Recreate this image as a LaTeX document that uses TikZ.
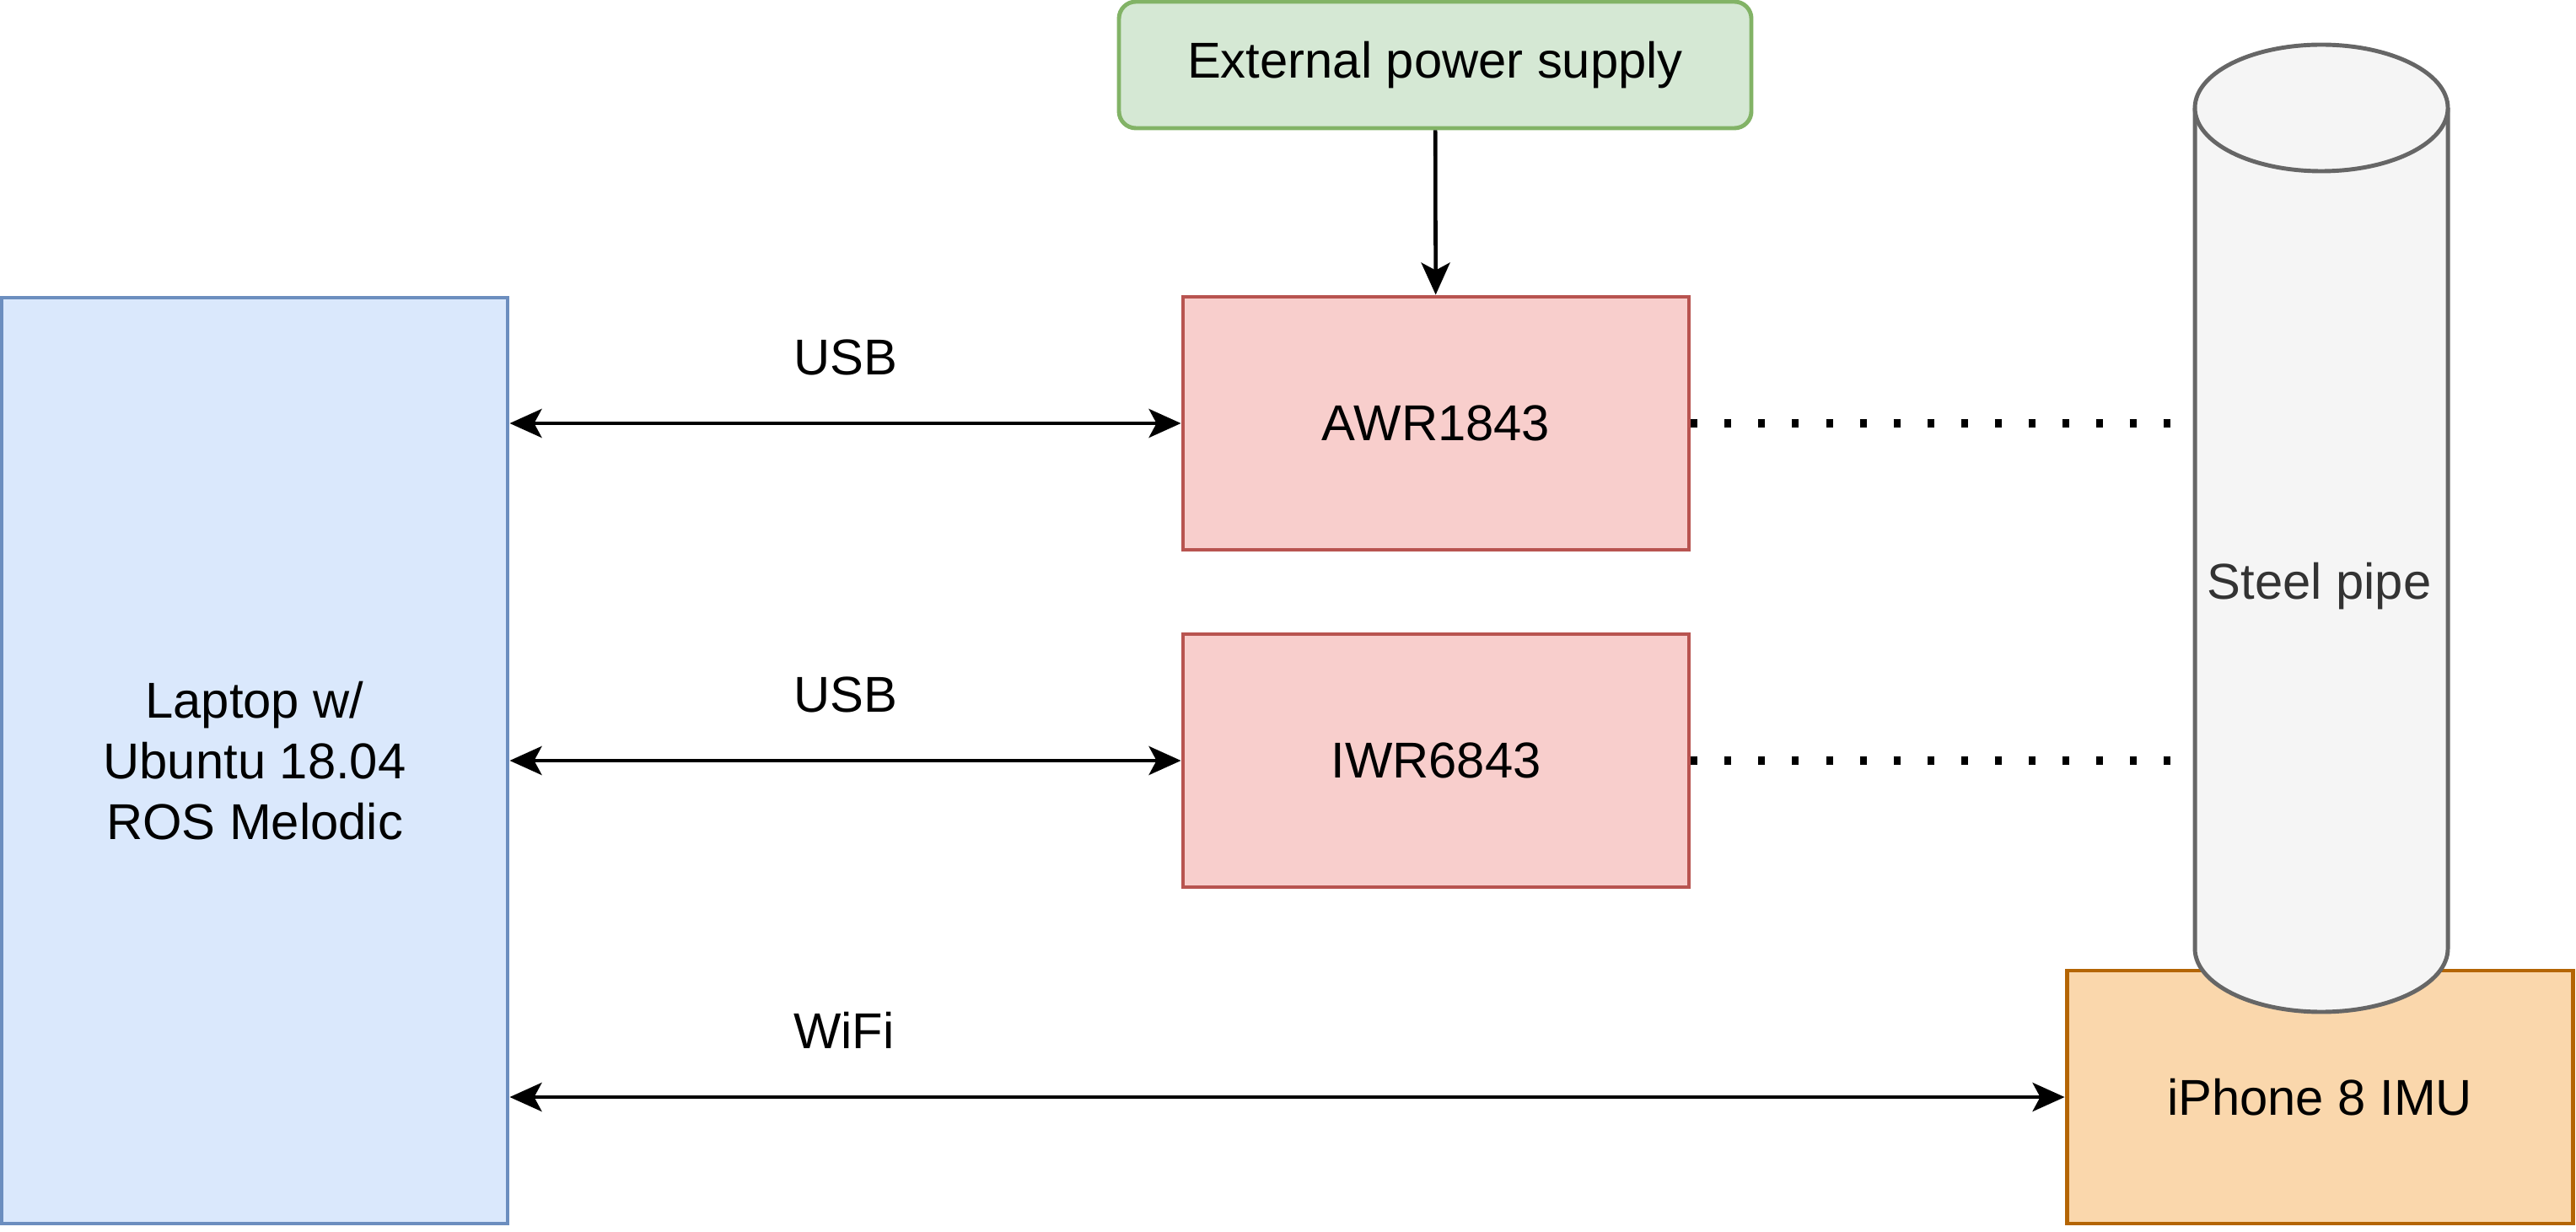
\documentclass[tikz,border=0pt]{standalone}
\usepackage{fontspec}
\setmainfont{Liberation Sans}
\usepackage{tikz}
\usetikzlibrary{arrows.meta,positioning}

\definecolor{lapfill}{HTML}{DAE8FC}
\definecolor{lapdraw}{HTML}{6C8EBF}
\definecolor{powfill}{HTML}{D5E8D4}
\definecolor{powdraw}{HTML}{82B366}
\definecolor{radfill}{HTML}{F8CECC}
\definecolor{raddraw}{HTML}{B85450}
\definecolor{phfill}{HTML}{FAD7AC}
\definecolor{phdraw}{HTML}{B46504}
\definecolor{pipefill}{HTML}{F5F5F5}
\definecolor{pipedraw}{HTML}{666666}
\definecolor{pipetext}{HTML}{333333}

\tikzset{
	blk/.style={draw, line width=1.4pt, minimum width=6cm, minimum height=3cm,
		align=center, inner sep=0pt},
	lbl/.style={inner sep=0pt},
	link/.style={line width=1.3pt,
		>={Stealth[length=0.38cm, width=0.34cm, inset=0.09cm]}},
	dotline/.style={line width=0.1cm, dash pattern=on 0.08cm off 0.32cm}
}

\begin{document}
\begin{tikzpicture}[font=\fontsize{17}{20.4}\selectfont]
		\useasboundingbox (0,0) rectangle (30.55,14.6);
		%
		\node[blk, fill=lapfill, draw=lapdraw, minimum height=10.98cm] (Lap) at (3.02,5.58) {Laptop w/\\Ubuntu 18.04\\ROS Melodic};
		\node[blk, fill=powfill, draw=powdraw, rounded corners=0.2cm, minimum width=7.5cm, minimum height=1.5cm] (Pow) at (17.02,13.83) {External power supply};
		\node[blk, fill=radfill, draw=raddraw] (AWR) at (17.03,9.58) {AWR1843};
		\node[blk, fill=radfill, draw=raddraw] (IWR) at (17.03,5.58) {IWR6843};
		\node[blk, fill=phfill, draw=phdraw] (Ph) at (27.51,1.59) {iPhone 8 IMU};
		%
		% steel pipe
		\fill[pipefill] (26.03,13.32) -- (26.03,3.35)
			arc[start angle=180, end angle=360, x radius=1.5, y radius=0.75]
			-- (29.03,13.32) -- cycle;
		\draw[pipedraw, line width=1.4pt] (26.03,13.32) -- (26.03,3.35)
			arc[start angle=180, end angle=360, x radius=1.5, y radius=0.75]
			-- (29.03,13.32);
		\draw[pipedraw, fill=pipefill, line width=1.4pt] (27.53,13.32) ellipse [x radius=1.5, y radius=0.75];
		\node[text=pipetext, anchor=base] (Pipe) at (27.505,7.50) {Steel pipe};
		\coordinate (PA) at (25.75,9.58);
		\coordinate (PI) at (25.75,5.58);
		%
		\path[link]
		% power
		(Pow) edge[->] (AWR)
		% laptop links
		(Lap.east |- AWR) edge[<->] node[lbl, above=0.55cm]{USB} (AWR)
		(Lap.east |- IWR) edge[<->] node[lbl, above=0.55cm]{USB} (IWR)
		(Lap.east |- Ph) edge[<->] node[lbl, above=0.55cm, pos=0.215]{WiFi} (Ph);
		%
		\path[dotline]
		(AWR) edge (PA)
		(IWR) edge (PI);
\end{tikzpicture}
\end{document}
